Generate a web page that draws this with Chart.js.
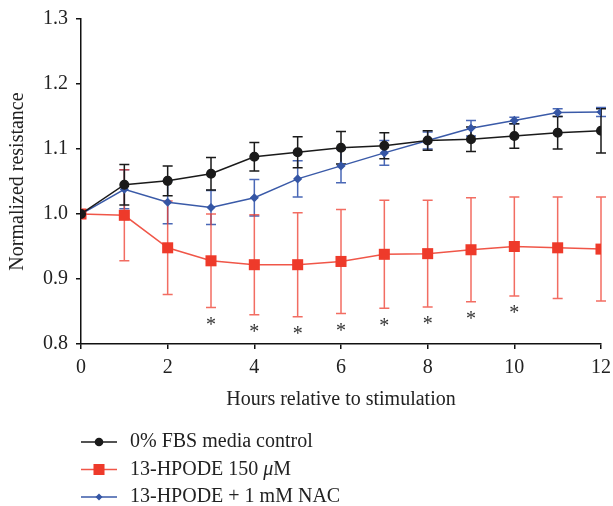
<!DOCTYPE html>
<html>
<head>
<meta charset="utf-8">
<script src="https://cdn.jsdelivr.net/npm/chart.js@4"></script>
<style>
  body { margin: 0; background: #fff; }
  canvas { display: block; }
</style>
</head>
<body>
<canvas id="mychart" width="613" height="506"></canvas>
<script>
// hours after stimulation
var hours = [0, 1, 2, 3, 4, 5, 6, 7, 8, 9, 10, 11, 12]

// mean normalized resistance and error (+/-) for each group
var fbsMean   = [1.000, 1.045, 1.051, 1.062, 1.088, 1.095, 1.102, 1.105, 1.113, 1.115, 1.120, 1.125, 1.128]
var fbsErr    = [0, 0.031, 0.023, 0.025, 0.022, 0.024, 0.025, 0.020, 0.015, 0.019, 0.019, 0.025, 0.034]
var hpodeMean = [1.000, 0.998, 0.948, 0.928, 0.922, 0.922, 0.927, 0.938, 0.939, 0.945, 0.950, 0.948, 0.946]
var hpodeErr  = [0, 0.070, 0.072, 0.072, 0.077, 0.080, 0.080, 0.083, 0.082, 0.080, 0.076, 0.078, 0.080]
var nacMean   = [1.000, 1.038, 1.018, 1.010, 1.025, 1.054, 1.074, 1.094, 1.113, 1.132, 1.144, 1.156, 1.157]
var nacErr    = [0, 0.030, 0.033, 0.026, 0.028, 0.028, 0.026, 0.019, 0.013, 0.012, 0.005, 0.006, 0.007]

// hours marked significant (*) under the 13-HPODE series
var sigHours = [3, 4, 5, 6, 7, 8, 9, 10]

var labels = ["0% FBS media control", "13-HPODE 150 \u03bcM", "13-HPODE + 1 mM NAC"]

var serif = "'Liberation Serif', 'DejaVu Serif', serif"

function points(mean){
    return hours.map(function(h, i){ return {x: h, y: mean[i]} })
}

// vertical error bars with caps, drawn under the lines
var errorBars = {
    id: 'errorBars',
    beforeDatasetsDraw: function(chart){
        var ctx = chart.ctx
        var xs = chart.scales.x, ys = chart.scales.y
        for (var d = chart.data.datasets.length - 1; d >= 0; d--) {
            var ds = chart.data.datasets[d]
            ctx.save()
            ctx.strokeStyle = ds.errColor
            ctx.lineWidth = 1.5
            ds.data.forEach(function(p, i){
                var e = ds.err[i]
                if (!e) return
                var x = xs.getPixelForValue(p.x)
                var top = ys.getPixelForValue(p.y + e)
                var bot = ys.getPixelForValue(p.y - e)
                ctx.beginPath()
                ctx.moveTo(x, top); ctx.lineTo(x, bot)
                ctx.moveTo(x - 5, top); ctx.lineTo(x + 5, top)
                ctx.moveTo(x - 5, bot); ctx.lineTo(x + 5, bot)
                ctx.stroke()
            })
            ctx.restore()
        }
    },
    afterDatasetsDraw: function(chart){
        // asterisks below the lower error bar
        var ctx = chart.ctx
        var xs = chart.scales.x, ys = chart.scales.y
        ctx.save()
        ctx.fillStyle = '#333'
        ctx.font = '20px ' + serif
        ctx.textAlign = 'center'
        ctx.textBaseline = 'middle'
        sigHours.forEach(function(h){
            var i = hours.indexOf(h)
            var y = ys.getPixelForValue(hpodeMean[i] - hpodeErr[i])
            ctx.fillText('*', xs.getPixelForValue(h), y + 18)
        })
        ctx.restore()
    }
}

function drawMarker(ctx, style, r, x, y){
    if (style === 'circle') {
        ctx.arc(x, y, r, 0, Math.PI * 2)
    } else if (style === 'rect') {
        var s = Math.SQRT1_2 * r
        ctx.rect(x - s, y - s, 2 * s, 2 * s)
    } else {
        ctx.moveTo(x, y - r); ctx.lineTo(x + r, y); ctx.lineTo(x, y + r); ctx.lineTo(x - r, y)
        ctx.closePath()
    }
}

// legend stacked under the x axis title
var stackedLegend = {
    id: 'stackedLegend',
    afterDraw: function(chart){
        var ctx = chart.ctx
        chart.data.datasets.forEach(function(ds, i){
            var y = 442 + i * 27.5
            ctx.save()
            ctx.strokeStyle = ds.borderColor
            ctx.lineWidth = 1.5
            ctx.beginPath()
            ctx.moveTo(81, y); ctx.lineTo(117, y)
            ctx.stroke()
            ctx.fillStyle = ds.pointBackgroundColor
            ctx.beginPath()
            drawMarker(ctx, ds.pointStyle, ds.pointRadius, 99, y)
            ctx.fill()
            ctx.restore()

            ctx.save()
            ctx.fillStyle = '#222'
            ctx.textBaseline = 'middle'
            ctx.textAlign = 'left'
            var x = 130
            var parts = ds.label.split('\u03bc')
            parts.forEach(function(part, k){
                if (k > 0) {
                    ctx.font = 'italic 20px ' + serif
                    ctx.fillText('\u03bc', x, y)
                    x += ctx.measureText('\u03bc').width
                }
                ctx.font = '20px ' + serif
                ctx.fillText(part, x, y)
                x += ctx.measureText(part).width
            })
            ctx.restore()
        })
    }
}

var mychart = document.getElementById("mychart").getContext('2d')

var chart = new Chart(mychart, {
    type: 'line',
    data: {
        datasets: [
            {
                label: labels[0],
                data: points(fbsMean),
                err: fbsErr,
                errColor: '#1a1a1a',
                borderColor: '#1a1a1a',
                borderWidth: 1.5,
                pointStyle: 'circle',
                pointRadius: 4.3,
                pointBackgroundColor: '#1a1a1a',
                pointBorderColor: '#1a1a1a',
                tension: 0
            },
            {
                label: labels[1],
                data: points(hpodeMean),
                err: hpodeErr,
                errColor: 'rgba(238,60,45,0.75)',
                borderColor: '#f05648',
                borderWidth: 1.5,
                pointStyle: 'rect',
                pointRadius: 7.8,
                pointBackgroundColor: '#ee3a2a',
                pointBorderColor: '#ee3a2a',
                pointBorderWidth: 0,
                tension: 0
            },
            {
                label: labels[2],
                data: points(nacMean),
                err: nacErr,
                errColor: '#4a68b6',
                borderColor: '#3a5aa8',
                borderWidth: 1.5,
                pointStyle: 'rectRot',
                pointRadius: 3.5,
                pointBackgroundColor: '#3556a5',
                pointBorderColor: '#3556a5',
                tension: 0
            }
        ]
    },
    options: {
        responsive: false,
        animation: false,
        layout: { padding: { top: 19, right: 12, bottom: 90, left: 0 } },
        plugins: { legend: { display: false }, tooltip: { enabled: false } },
        scales: {
            x: {
                type: 'linear',
                min: 0, max: 12,
                afterFit: function(s){
                    s.height = 72
                    s.paddingLeft = 0
                    s.paddingRight = 0
                },
                ticks: { stepSize: 2, color: '#222', padding: 7, font: { family: serif, size: 20 } },
                grid: { drawOnChartArea: false, tickLength: 5, color: '#111', lineWidth: 1.5 },
                border: { color: '#111', width: 1.5 },
                title: { display: true, text: 'Hours relative to stimulation', color: '#222',
                         padding: { top: 4, bottom: 4 }, font: { family: serif, size: 20 } }
            },
            y: {
                min: 0.8, max: 1.3,
                afterFit: function(s){
                    s.width = 81
                    s.paddingTop = 0
                    s.paddingBottom = 0
                },
                ticks: { stepSize: 0.1, color: '#222', padding: 8, font: { family: serif, size: 20 },
                         callback: function(v){ return v.toFixed(1) } },
                grid: { drawOnChartArea: false, tickLength: 5, color: '#111', lineWidth: 1.5 },
                border: { color: '#111', width: 1.5 },
                title: { display: true, text: 'Normalized resistance', color: '#222',
                         padding: { top: 6, bottom: 0 }, font: { family: serif, size: 20 } }
            }
        }
    },
    plugins: [errorBars, stackedLegend]
})
</script>
</body>
</html>
